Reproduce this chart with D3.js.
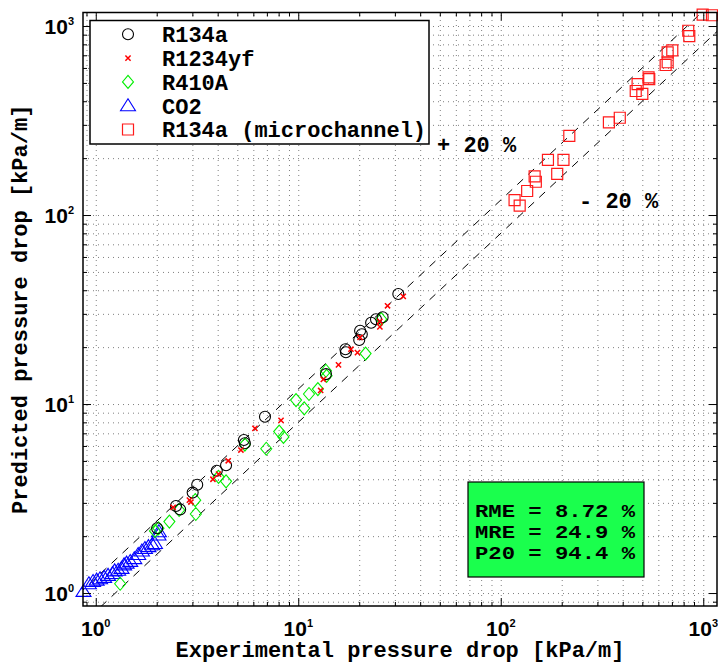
<!DOCTYPE html>
<html>
<head>
<meta charset="utf-8">
<script src="https://cdn.jsdelivr.net/npm/d3@7"></script>
<style>
  html, body { margin: 0; padding: 0; background: #fff; }
  svg { display: block; }
  .mono { font-family: "Liberation Mono", "Courier New", monospace; font-weight: bold; }
  .tick-label { font-family: "Liberation Sans", Arial, sans-serif; font-weight: bold; }
</style>
</head>
<body>
<svg id="chart" width="718" height="664"></svg>
<script>
// Measured vs. predicted frictional pressure drop, kPa/m
const seriesNames = ["R134a", "R1234yf", "R410A", "CO2", "R134a (microchannel)"];

const r134a = [[2.01,2.20],[2.49,2.89],[2.61,2.77],[3.01,3.40],[3.17,3.74],[3.96,4.44],[4.40,4.74],
  [5.39,6.45],[5.45,6.20],[6.85,8.57],[13.7,14.4],[17.1,19.5],[17.2,18.8],[20.0,21.8],[20.2,24.4],
  [20.6,23.4],[22.9,26.9],[24.2,28.1],[26.1,28.8],[31.2,38.2]];

const r1234yf = [[2.41,2.84],[2.90,3.10],[2.95,3.03],[3.79,4.00],[4.04,4.26],[4.51,5.01],[5.21,5.71],
  [6.11,7.44],[8.22,8.20],[12.9,11.8],[13.3,13.5],[15.8,16.1],[18.2,19.5],[19.6,18.7],[20.2,22.5],
  [25.3,27.4],[25.3,25.6],[27.6,33.1],[33.0,37.1]];

const r410a = [[1.32,1.12],[1.96,2.13],[2.04,2.20],[2.31,2.39],[2.58,2.75],[3.10,3.10],[3.12,2.62],
  [4.04,4.12],[4.40,3.90],[5.45,6.10],[6.95,5.80],[8.05,7.15],[8.45,6.70],[9.75,10.5],[10.7,9.49],
  [11.3,11.3],[12.5,12.0],[13.7,15.0],[13.8,14.1],[21.5,18.5],[25.7,28.1]];

const co2 = [[0.87,1.02],[0.925,1.12],[0.97,1.15],[1.01,1.17],[1.05,1.19],[1.10,1.21],[1.15,1.24],
  [1.21,1.27],[1.24,1.31],[1.29,1.32],[1.34,1.35],[1.38,1.41],[1.42,1.44],[1.48,1.47],[1.55,1.52],
  [1.62,1.60],[1.69,1.67],[1.75,1.72],[1.82,1.76],[1.90,1.80],[1.96,1.83],[2.04,2.03],[2.05,2.11]];

const r134aMicro = [[993,1150],[1104,1140],[843,944],[853,885],[667,726],[703,744],[652,622],[667,643],
  [537,535],[541,523],[474,493],[464,453],[500,438],[342,309],[387,327],[218,262],[171,196],[204,196],
  [190,165],[147,160],[149,150],[135,134],[117,120],[124,112]];

const bandFactors = [1.2, 0.8];
const bandLabels = ["+ 20 %", "- 20 %"];
const statLines = ["RME = 8.72 %", "MRE = 24.9 %", "P20 = 94.4 %"];
const majorExponents = [0, 1, 2, 3];

const svg = d3.select("#chart");
const L = 83, R = 717, T = 12.5, B = 606;

const x = d3.scaleLog().domain([0.865, 1169]).range([L, R]);
const y = d3.scaleLog().domain([0.854, 1179]).range([B, T]);

const majors = majorExponents.map(e => Math.pow(10, e));
function minorsFor(scale) {
  const [lo, hi] = scale.domain();
  const out = [];
  for (let e = -1; e <= 3; e++) {
    for (let m = 2; m <= 9; m++) {
      const v = m * Math.pow(10, e);
      if (v >= lo && v <= hi) out.push(v);
    }
  }
  return out;
}
const xMinors = minorsFor(x), yMinors = minorsFor(y);
const xAll = majors.concat(xMinors), yAll = majors.concat(yMinors);

// grid (dotted, major + minor)
const grid = svg.append("g");
grid.append("g").attr("transform", `translate(0,${B})`)
  .call(d3.axisBottom(x).tickValues(xAll).tickSize(-(B - T)).tickFormat(""));
grid.append("g").attr("transform", `translate(${L},0)`)
  .call(d3.axisLeft(y).tickValues(yAll).tickSize(-(R - L)).tickFormat(""));
grid.selectAll(".domain").remove();
grid.selectAll("line").attr("stroke", "#000").attr("stroke-opacity", 0.5)
  .attr("stroke-width", 1).attr("stroke-dasharray", "1,4");

// clip for the ±20 % lines
svg.append("clipPath").attr("id", "plotclip").append("rect")
  .attr("x", L).attr("y", T).attr("width", R - L).attr("height", B - T);

const bandLine = d3.line().x(d => x(d[0])).y(d => y(d[1]));
const lineXs = [0.5, 0.865, 1169, 2000];
bandFactors.forEach(f => {
  svg.append("path")
    .attr("clip-path", "url(#plotclip)")
    .attr("d", bandLine(lineXs.map(v => [v, v * f])))
    .attr("fill", "none").attr("stroke", "#000").attr("stroke-width", 1)
    .attr("stroke-dasharray", "8,7");
});

// markers
const markers = {
  circle: (g, c) => g.append("circle").attr("r", 5.5).attr("fill", "none").attr("stroke", c).attr("stroke-width", 1.1),
  cross: (g, c) => g.append("path").attr("d", "M-2.6,-2.6L2.6,2.6M-2.6,2.6L2.6,-2.6").attr("fill", "none").attr("stroke", c).attr("stroke-width", 1.5),
  diamond: (g, c) => g.append("path").attr("d", "M0,-6.5L5.5,0L0,6.5L-5.5,0Z").attr("fill", "none").attr("stroke", c).attr("stroke-width", 1.1),
  triangle: (g, c) => g.append("path").attr("d", "M0,-7L7.5,5L-7.5,5Z").attr("fill", "none").attr("stroke", c).attr("stroke-width", 1.1),
  square: (g, c) => g.append("path").attr("d", "M-5.5,-5.5H5.5V5.5H-5.5Z").attr("fill", "none").attr("stroke", c).attr("stroke-width", 1.2)
};

const series = [
  { name: seriesNames[0], data: r134a, shape: "circle", color: "#000000" },
  { name: seriesNames[1], data: r1234yf, shape: "cross", color: "#ff0000" },
  { name: seriesNames[2], data: r410a, shape: "diamond", color: "#00ee00" },
  { name: seriesNames[3], data: co2, shape: "triangle", color: "#0000ff" },
  { name: seriesNames[4], data: r134aMicro, shape: "square", color: "#ff1a1a" }
];

const drawOrder = [3, 2, 4, 0, 1];
drawOrder.forEach(i => {
  const s = series[i];
  const g = svg.append("g");
  s.data.forEach(d => {
    const m = g.append("g").attr("transform", `translate(${x(d[0])},${y(d[1])})`);
    markers[s.shape](m, s.color);
  });
});

// box axes with inward ticks on every side
function styleAxis(g) {
  g.selectAll(".domain").remove();
  g.selectAll("line").attr("stroke", "#000").attr("stroke-width", 1);
}
const axes = svg.append("g");
[
  [d3.axisBottom, `translate(0,${B})`, x],
  [d3.axisTop, `translate(0,${T})`, x],
  [d3.axisLeft, `translate(${L},0)`, y],
  [d3.axisRight, `translate(${R},0)`, y]
].forEach(([fn, tr, sc]) => {
  const minors = sc === x ? xMinors : yMinors;
  axes.append("g").attr("transform", tr).call(fn(sc).tickValues(majors).tickSize(-8).tickFormat("")).call(styleAxis);
  axes.append("g").attr("transform", tr).call(fn(sc).tickValues(minors).tickSize(-4).tickFormat("")).call(styleAxis);
});
axes.append("rect").attr("x", L).attr("y", T).attr("width", R - L).attr("height", B - T)
  .attr("fill", "none").attr("stroke", "#000").attr("stroke-width", 1.5);

// tick labels: 10 with superscript exponent
majorExponents.forEach(e => {
  const v = Math.pow(10, e);
  const tx = svg.append("text").attr("class", "tick-label")
    .attr("x", x(v)).attr("y", 636).attr("text-anchor", "middle").attr("font-size", 21);
  tx.append("tspan").text("10");
  tx.append("tspan").attr("dy", -9).attr("font-size", 11).text(String(e));

  const ty = svg.append("text").attr("class", "tick-label")
    .attr("x", 74).attr("y", y(v) + 8).attr("text-anchor", "end").attr("font-size", 21);
  ty.append("tspan").text("10");
  ty.append("tspan").attr("dy", -9).attr("font-size", 11).text(String(e));
});

// axis titles
svg.append("text").attr("class", "mono").attr("font-size", 22)
  .attr("x", (L + R) / 2).attr("y", 656.5).attr("text-anchor", "middle")
  .text("Experimental pressure drop [kPa/m]");
svg.append("text").attr("class", "mono").attr("font-size", 22)
  .attr("transform", `translate(27,${(T + B) / 2}) rotate(-90)`).attr("text-anchor", "middle")
  .text("Predicted pressure drop [kPa/m]");

// ±20 % annotations
svg.append("text").attr("class", "mono").attr("font-size", 22).attr("x", 437).attr("y", 152).text(bandLabels[0]);
svg.append("text").attr("class", "mono").attr("font-size", 22).attr("x", 579).attr("y", 208).text(bandLabels[1]);

// legend
const leg = svg.append("g");
leg.append("rect").attr("x", 90).attr("y", 20.5).attr("width", 339).attr("height", 123.5)
  .attr("fill", "#fff").attr("stroke", "#000").attr("stroke-width", 1.5);
series.forEach((s, i) => {
  const cy = 34.3 + i * 23.8;
  const m = leg.append("g").attr("transform", `translate(128,${cy})`);
  markers[s.shape](m, s.color);
  leg.append("text").attr("class", "mono").attr("font-size", 22)
    .attr("x", 162).attr("y", cy + 7.8).text(s.name);
});

// statistics box
const stats = svg.append("g");
stats.append("rect").attr("x", 468).attr("y", 482).attr("width", 176).attr("height", 95)
  .attr("fill", "#1aff4d").attr("stroke", "#000").attr("stroke-width", 1.2);
statLines.forEach((t, i) => {
  stats.append("text").attr("class", "mono").attr("font-size", 18)
    .attr("x", 475).attr("y", 517 + i * 20.8).attr("textLength", 160)
    .attr("lengthAdjust", "spacingAndGlyphs").text(t);
});
</script>
</body>
</html>
